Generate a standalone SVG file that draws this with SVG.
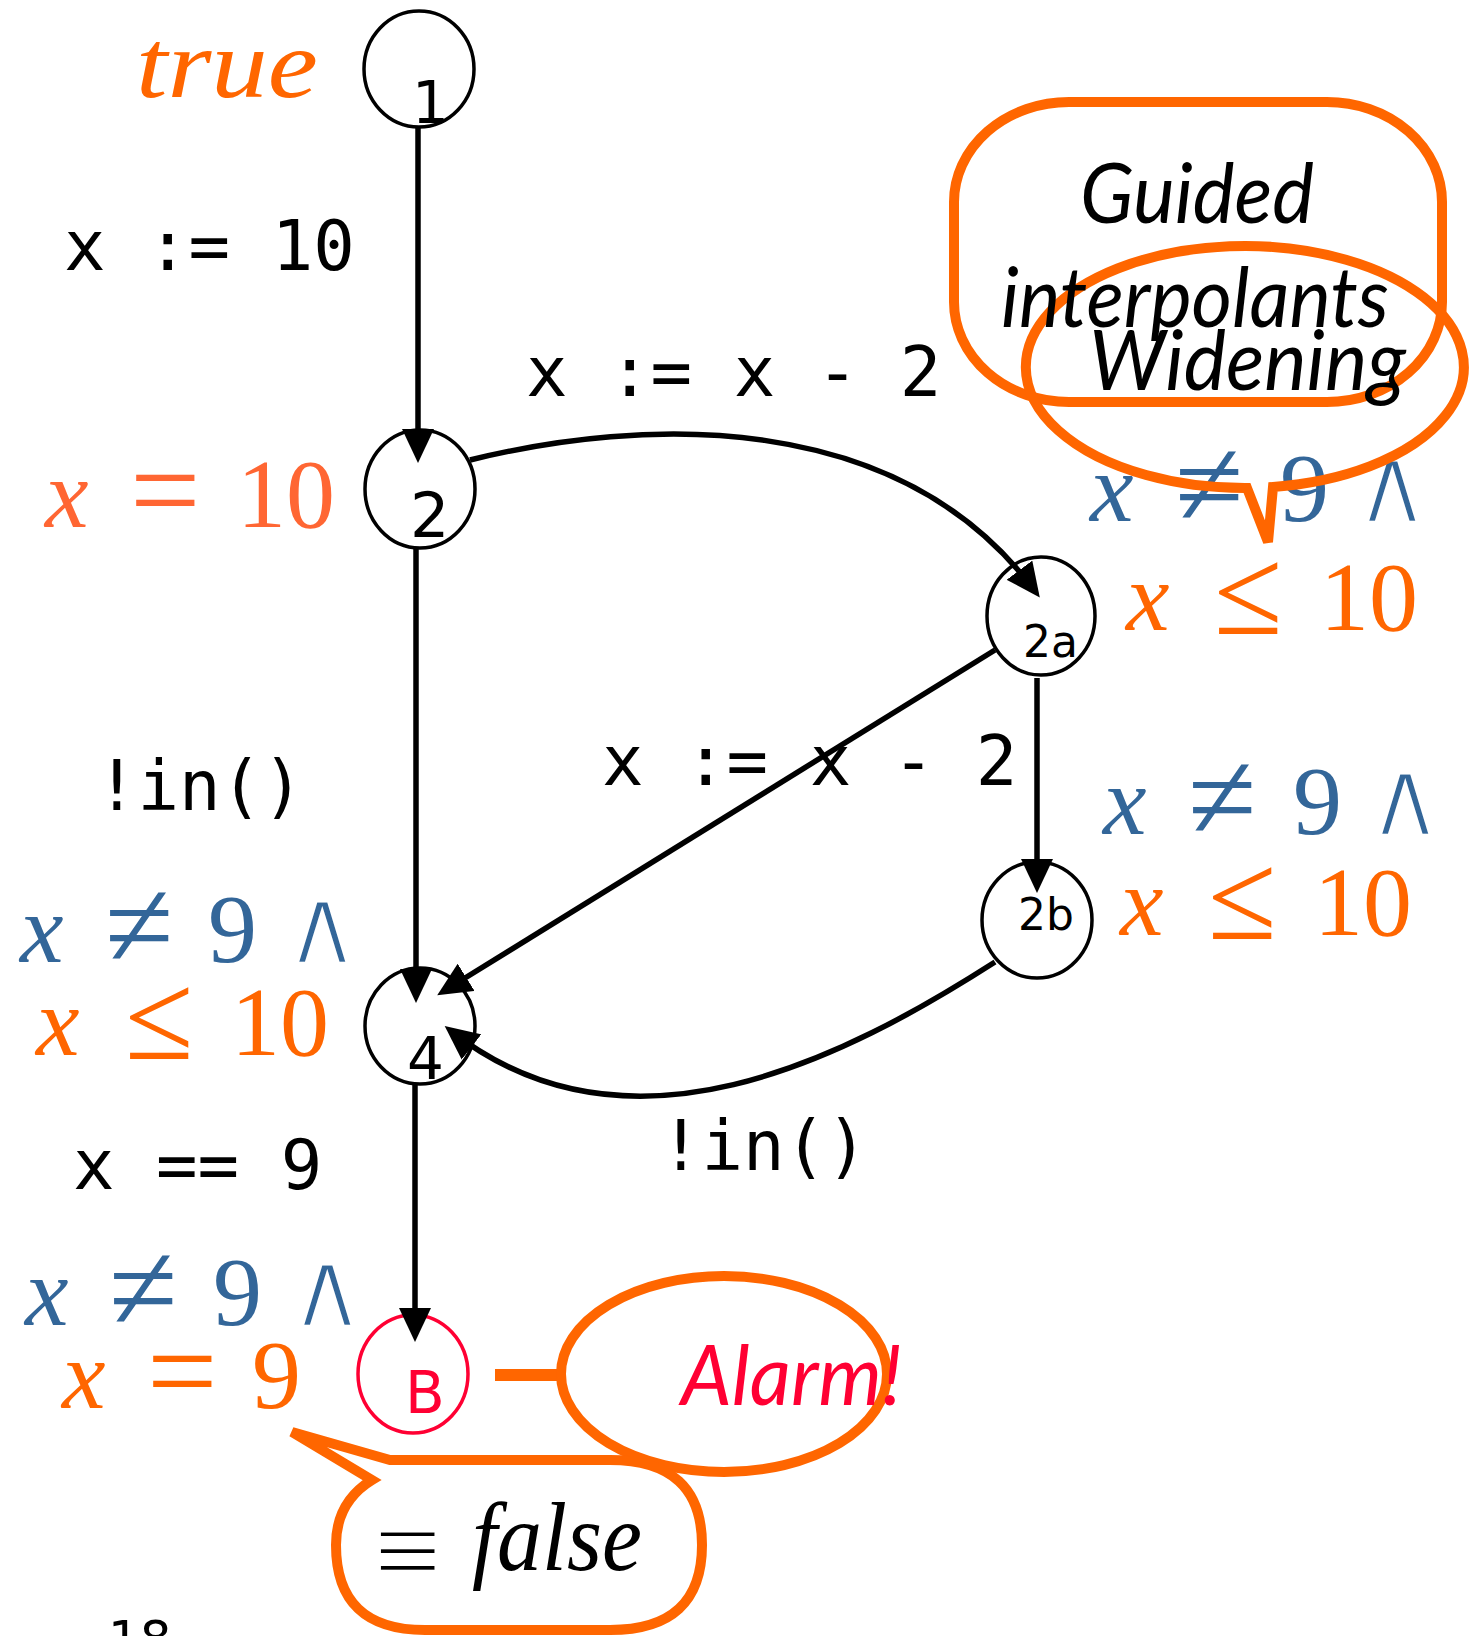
<svg xmlns="http://www.w3.org/2000/svg" width="1474" height="1636" viewBox="0 0 1474 1636">
<style>
  .node { fill: #fff; stroke: #000; stroke-width: 3.5; }
  .nodeB { fill: #fff; stroke: #ff0033; stroke-width: 3.5; }
  .lbl { font-family: "DejaVu Sans", sans-serif; fill: #000; }
  .edge { fill: none; stroke: #000; stroke-width: 5.5; marker-end: url(#ah); }
  .mono { font-family: "DejaVu Sans Mono", "Liberation Mono", monospace; font-size: 69px; fill: #000; }
  .m { font-family: "Liberation Serif", "DejaVu Serif", serif; font-size: 98px; }
  .mi { font-style: italic; }
  .sym { font-family: "Liberation Serif", "DejaVu Serif", serif; font-size: 125px; font-style: normal; }
  .and { font-family: "DejaVu Sans", sans-serif; font-size: 110px; font-style: normal; stroke: #fff; stroke-width: 4.5; }
  .eqv { font-family: "DejaVu Sans", sans-serif; font-size: 92px; fill: #000; stroke: #fff; stroke-width: 4; }
  .blue { fill: #336699; }
  .orange { fill: #ff6600; }
  .orange2 { fill: #ff6633; }
  .call { fill: none; stroke: #ff6600; stroke-width: 10; stroke-linejoin: miter; }
  .ctext { font-family: Lato, "Open Sans", "Liberation Sans", sans-serif; font-style: italic; font-size: 84px; fill: #000; }
</style>
<defs>
  <marker id="ah" viewBox="0 0 34 32" refX="26" refY="16" markerWidth="34" markerHeight="32" orient="auto" markerUnits="userSpaceOnUse">
    <path d="M0,0 L34,16 L0,32 Z" fill="#000"/>
  </marker>
</defs>

<!-- invariant annotations (under callouts) -->
<g id="annotations">
  <text class="m mi orange" x="136" y="97" font-size="102" textLength="182" lengthAdjust="spacingAndGlyphs">true</text>

  <text class="m orange2"><tspan class="mi" x="45" y="527">x</tspan><tspan class="sym" x="130" y="532">=</tspan><tspan x="237" y="527">10</tspan></text>

  <text class="m blue"><tspan class="mi" x="1090" y="521">x</tspan><tspan class="sym" x="1175" y="526">≠</tspan><tspan x="1280" y="521">9</tspan><tspan class="and" x="1352" y="523">∧</tspan></text>
  <text class="m orange"><tspan class="mi" x="1126" y="630">x</tspan><tspan class="sym" x="1214" y="634">≤</tspan><tspan x="1320" y="630">10</tspan></text>

  <text class="m blue"><tspan class="mi" x="1103" y="834">x</tspan><tspan class="sym" x="1188" y="839">≠</tspan><tspan x="1293" y="834">9</tspan><tspan class="and" x="1365" y="836">∧</tspan></text>
  <text class="m orange"><tspan class="mi" x="1120" y="935">x</tspan><tspan class="sym" x="1208" y="939">≤</tspan><tspan x="1314" y="935">10</tspan></text>

  <text class="m blue"><tspan class="mi" x="20" y="962">x</tspan><tspan class="sym" x="105" y="967">≠</tspan><tspan x="208" y="962">9</tspan><tspan class="and" x="282" y="964">∧</tspan></text>
  <text class="m orange"><tspan class="mi" x="36" y="1055">x</tspan><tspan class="sym" x="125" y="1059">≤</tspan><tspan x="231" y="1055">10</tspan></text>

  <text class="m blue"><tspan class="mi" x="25" y="1325">x</tspan><tspan class="sym" x="109" y="1330">≠</tspan><tspan x="213" y="1325">9</tspan><tspan class="and" x="287" y="1327">∧</tspan></text>
  <text class="m orange"><tspan class="mi" x="62" y="1408">x</tspan><tspan class="sym" x="147" y="1413">=</tspan><tspan x="252" y="1408">9</tspan></text>
</g>

<!-- nodes -->
<g id="n1"><ellipse class="node" cx="419" cy="69" rx="55" ry="58"/><text class="lbl" x="412" y="123" font-size="58" font-family="DejaVu Sans Mono">1</text></g>
<g id="n2"><ellipse class="node" cx="420" cy="489" rx="55" ry="59"/><text class="lbl" x="410" y="537" font-size="62">2</text></g>
<g id="n2a"><ellipse class="node" cx="1041" cy="616" rx="54" ry="59"/><text class="lbl" x="1023" y="657" font-size="44">2a</text></g>
<g id="n2b"><ellipse class="node" cx="1037" cy="920" rx="55" ry="58"/><text class="lbl" x="1018" y="930" font-size="44">2b</text></g>
<g id="n4"><ellipse class="node" cx="420" cy="1026" rx="55" ry="58"/><text class="lbl" x="407" y="1079" font-size="58">4</text></g>
<g id="nB"><ellipse class="nodeB" cx="413" cy="1374" rx="55" ry="59"/><text class="lbl" x="405" y="1413" font-size="58" style="fill:#ff0033">B</text></g>

<!-- connectors -->
<g id="connectors">
  <path class="edge" d="M418 128 L418 455"/>
  <path class="edge" d="M470 460 C640 418 897 406 1035 591"/>
  <path class="edge" d="M416 548 L416 995"/>
  <path class="edge" d="M995 650 L444 991"/>
  <path class="edge" d="M1037 678 L1037 885"/>
  <path class="edge" d="M995 962 C845 1058 629 1170 451 1031"/>
  <path class="edge" d="M415 1085 L415 1334"/>
</g>

<!-- edge labels -->
<g id="edge-labels">
  <text class="mono" x="64" y="270" xml:space="preserve">x := 10</text>
  <text class="mono" x="526" y="396" xml:space="preserve">x := x - 2</text>
  <text class="mono" x="602" y="785" xml:space="preserve">x := x - 2</text>
  <text class="mono" x="96" y="810">!in()</text>
  <text class="mono" x="660" y="1170">!in()</text>
  <text class="mono" x="73" y="1189" xml:space="preserve">x == 9</text>
</g>

<!-- callouts -->
<g id="callout-guided">
  <rect class="call" x="954" y="102" width="488" height="300" rx="115" ry="100"/>
</g>
<g id="callout-widening">
  <path class="call" d="M1247 488 L1268 542 L1273 487 A219 121 0 1 0 1247 488 Z"/>
</g>
<g id="callout-alarm">
  <line x1="495" y1="1375" x2="563" y2="1375" stroke="#ff6600" stroke-width="12"/>
  <ellipse class="call" cx="724" cy="1374" rx="163" ry="98"/>
</g>
<g id="callout-false">
  <path class="call" d="M390 1460 L610 1460 Q702 1460 702 1545 Q702 1630 610 1630 L425 1630 Q336 1630 336 1545 Q336 1502 372 1480 L292 1432 Z"/>
</g>

<g id="callout-texts">
  <text class="ctext" x="1080" y="223" textLength="234" lengthAdjust="spacingAndGlyphs">Guided</text>
  <text class="ctext" x="1001" y="327" textLength="388" lengthAdjust="spacingAndGlyphs">interpolants</text>
  <text class="ctext" x="1089" y="390" textLength="317" lengthAdjust="spacingAndGlyphs">Widening</text>
  <text class="ctext" x="681" y="1405" font-size="88" textLength="221" lengthAdjust="spacingAndGlyphs" style="fill:#ff0033">Alarm!</text>
  <text class="eqv" x="369" y="1580">≡</text>
  <text class="m mi" x="472" y="1570" font-size="84" fill="#000" textLength="170" lengthAdjust="spacingAndGlyphs">false</text>
</g>

<text x="108" y="1656" font-family="DejaVu Sans, sans-serif" font-size="50" fill="#000">18</text>
</svg>
